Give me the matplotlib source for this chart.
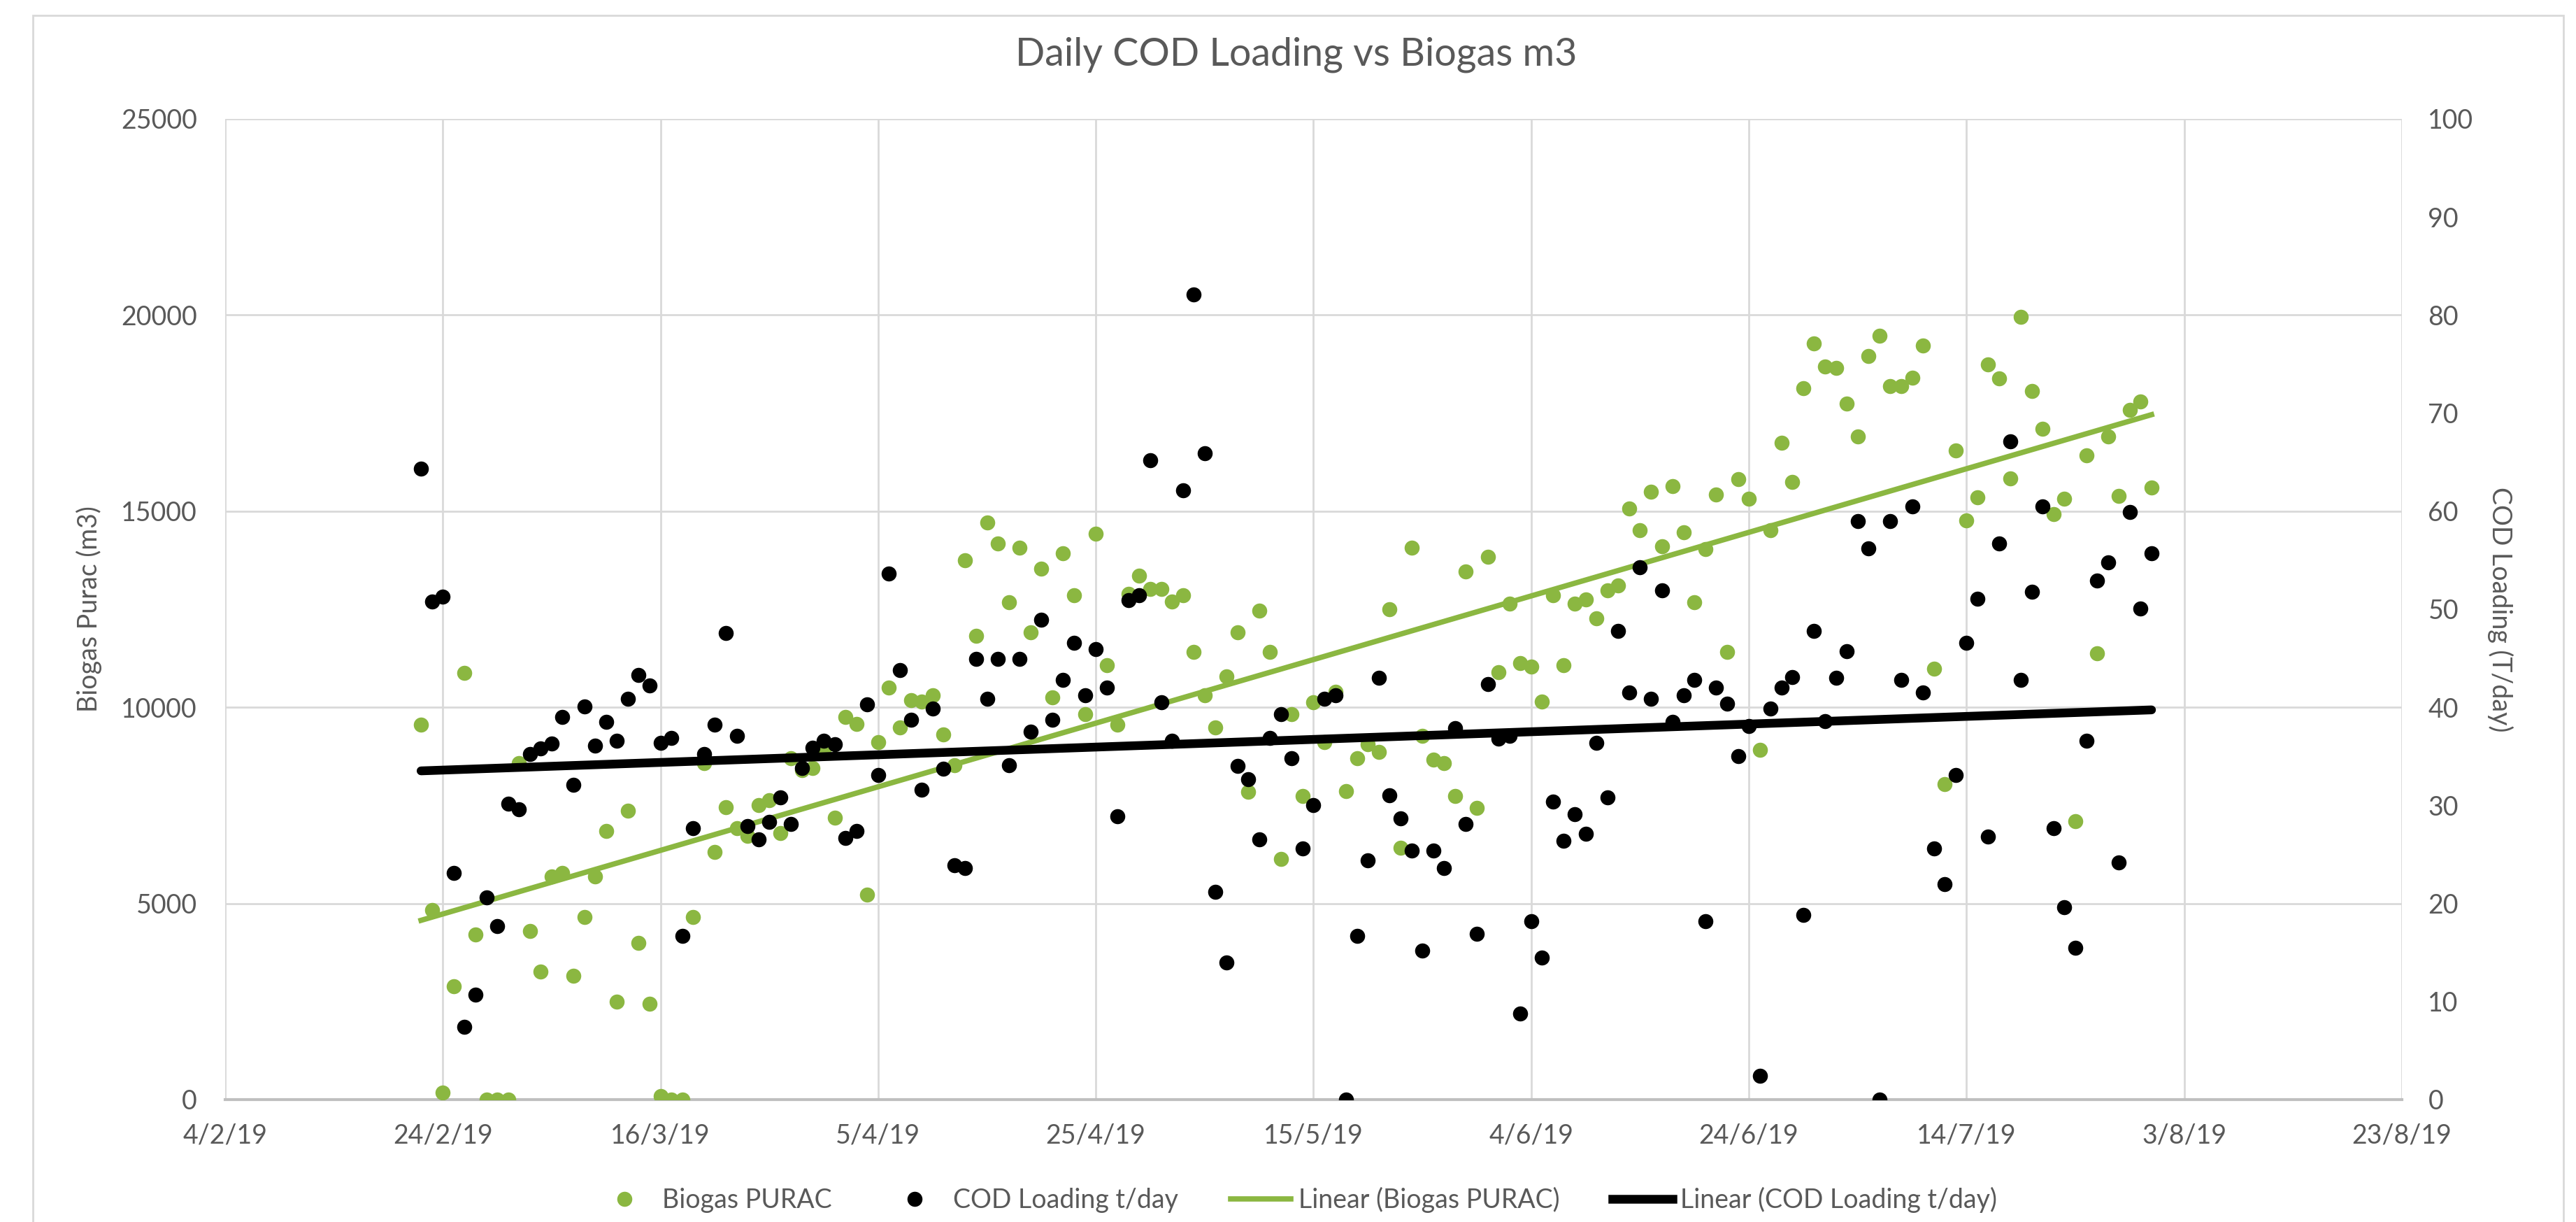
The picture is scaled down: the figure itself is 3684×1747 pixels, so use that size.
#!/usr/bin/env python

# Daily COD loading vs biogas, Excel style scatter with linear trends

import numpy as np
import pandas as pd
import matplotlib

matplotlib.use("Agg")
import matplotlib.pyplot as plt
import matplotlib.dates as mdates
from matplotlib.ticker import FuncFormatter, MultipleLocator
from matplotlib.patches import Rectangle
from matplotlib.lines import Line2D

plt.rcParams["font.family"] = ["Lato", "DejaVu Sans"]

# Daily readings, 22/2/19 to 31/7/19
days = pd.date_range("2019-02-22", "2019-07-31", freq="D")

biogas = [
    # Feb 22-28
    9550, 4830, 170, 2880, 10870, 4200, 0,
    # Mar
    0, 0, 8570, 4300, 3260, 5680, 5770, 3150, 4660, 5680,
    6840, 2500, 7360, 3990, 2440, 80, 0, 0, 4650, 8570,
    6310, 7460, 6920, 6720, 7510, 7630, 6800, 8700, 8400, 8450, 8860,
    # Apr
    7180, 9750, 9570, 5220, 9110, 10510, 9490, 10180, 10150, 10310,
    9310, 8530, 13740, 11830, 14710, 14180, 12670, 14070, 11910, 13540,
    10260, 13930, 12860, 9820, 14430, 11070, 9550, 12900, 13360, 13010,
    # May
    13010, 12700, 12860, 11410, 10310, 9490, 10790, 11910, 7840, 12470,
    11410, 6140, 9820, 7740, 10130, 9110, 10400, 7870, 8700, 9060,
    8860, 12500, 6420, 14070, 9270, 8660, 8580, 7740, 13470, 7430, 13830,
    # Jun
    10900, 12650, 11120, 11030, 10150, 12850, 11070, 12650, 12750, 12270,
    12980, 13110, 15070, 14510, 15500, 14110, 15630, 14460, 12670, 14030,
    15430, 11410, 15810, 15320, 8910, 14510, 16750, 15740, 18130, 19270,
    # Jul
    18690, 18660, 17740, 16900, 18960, 19470, 18180, 18180, 18400, 19220,
    10990, 8040, 16550, 14760, 15350, 18740, 18380, 15830, 19960, 18070,
    17100, 14920, 15320, 7100, 16420, 11380, 16910, 15380, 17590, 17800, 15610,
]

cod = [
    # Feb 22-28
    64.3, 50.8, 51.3, 23.1, 7.4, 10.7, 20.6,
    # Mar
    17.7, 30.2, 29.6, 35.2, 35.8, 36.3, 39.0, 32.1, 40.1, 36.1,
    38.5, 36.6, 40.9, 43.3, 42.2, 36.4, 36.9, 16.7, 27.7, 35.2,
    38.2, 47.6, 37.1, 27.9, 26.5, 28.3, 30.8, 28.1, 33.8, 35.9, 36.6,
    # Apr
    36.2, 26.7, 27.4, 40.3, 33.1, 53.6, 43.8, 38.7, 31.6, 39.9,
    33.7, 23.9, 23.6, 44.9, 40.9, 44.9, 34.1, 44.9, 37.5, 48.9,
    38.7, 42.8, 46.6, 41.2, 45.9, 42.0, 28.9, 50.9, 51.4, 65.2,
    # May
    40.5, 36.6, 62.1, 82.1, 65.9, 21.2, 14.0, 34.0, 32.7, 26.5,
    36.9, 39.3, 34.8, 25.6, 30.0, 40.9, 41.2, 0.0, 16.7, 24.4,
    43.0, 31.0, 28.7, 25.4, 15.2, 25.4, 23.6, 37.9, 28.1, 16.9, 42.4,
    # Jun
    36.8, 37.1, 8.8, 18.2, 14.5, 30.4, 26.4, 29.1, 27.1, 36.4,
    30.8, 47.8, 41.5, 54.3, 40.9, 51.9, 38.5, 41.2, 42.8, 18.2,
    42.0, 40.4, 35.0, 38.1, 2.4, 39.9, 42.0, 43.1, 18.8, 47.8,
    # Jul
    38.6, 43.0, 45.7, 59.0, 56.2, 0.0, 59.0, 42.8, 60.5, 41.5,
    25.6, 22.0, 33.1, 46.6, 51.1, 26.8, 56.7, 67.1, 42.8, 51.8,
    60.5, 27.7, 19.6, 15.5, 36.6, 52.9, 54.8, 24.2, 59.9, 50.1, 55.7,
]

x_ticks = pd.date_range("2019-02-04", "2019-08-23", freq="20D")

green = "#8BB741"
grey_text = "#595959"
grid_col = "#D9D9D9"
fs = 27

fig = plt.figure(figsize=(36.84, 17.47), dpi=100, facecolor="white")

# Chart area border
fig.add_artist(
    Rectangle(
        (0.0128, -0.01), 0.9823, 0.9974,
        transform=fig.transFigure, fill=False, edgecolor=grid_col, lw=2,
    )
)

ax = fig.add_axes([0.0874, 0.1002, 0.8450, 0.8025])
ax2 = ax.twinx()

# Biogas on left axis
ax.plot(days, biogas, "o", color=green, markersize=15.5, markeredgewidth=0, zorder=3)
xnum = mdates.date2num(days)
p_bio = np.polyfit(xnum, biogas, 1)
ends = xnum[[0, -1]]
ax.plot(mdates.num2date(ends), np.polyval(p_bio, ends), color=green, lw=5.5, zorder=4)

# COD on right axis
ax2.plot(days, cod, "o", color="black", markersize=15.5, markeredgewidth=0, zorder=3)
p_cod = np.polyfit(xnum, cod, 1)
ax2.plot(mdates.num2date(ends), np.polyval(p_cod, ends), color="black", lw=9,
         solid_capstyle="round", zorder=4)

ax.set_xlim(x_ticks[0], x_ticks[-1])
ax.set_xticks(x_ticks)
ax.xaxis.set_major_formatter(
    FuncFormatter(lambda v, pos: "%d/%d/%s" % (
        mdates.num2date(v).day, mdates.num2date(v).month, mdates.num2date(v).strftime("%y")))
)
ax.set_ylim(0, 25000)
ax.yaxis.set_major_locator(MultipleLocator(5000))
ax2.set_ylim(0, 100)
ax2.yaxis.set_major_locator(MultipleLocator(10))

ax.set_axisbelow(True)
ax.grid(True, which="major", color=grid_col, lw=2)
for s in ax.spines.values():
    s.set_visible(False)
for s in ax2.spines.values():
    s.set_visible(False)
ax.spines["bottom"].set_visible(True)
ax.spines["bottom"].set_color("#BFBFBF")
ax.spines["bottom"].set_linewidth(3)

ax.tick_params(axis="x", length=0, labelsize=fs, labelcolor=grey_text, pad=24)
ax.tick_params(axis="y", length=0, labelsize=fs, labelcolor=grey_text, pad=29)
ax2.tick_params(axis="y", length=0, labelsize=fs, labelcolor=grey_text, pad=27)

ax.set_ylabel("Biogas Purac (m3)", fontsize=fs, color=grey_text)
ax.yaxis.set_label_coords(-0.0565, 0.5)
ax2.set_ylabel("COD Loading (T/day)", fontsize=fs, color=grey_text,
               rotation=270, va="center")
ax2.yaxis.set_label_coords(1.0453, 0.5)

fig.text(0.5033, 0.955, "Daily COD Loading vs Biogas m3", ha="center", va="center",
         fontsize=40, color=grey_text)

handles = [
    Line2D([], [], ls="none", marker="o", color=green, markersize=15.5, markeredgewidth=0),
    Line2D([], [], ls="none", marker="o", color="black", markersize=15.5, markeredgewidth=0),
    Line2D([], [], color=green, lw=5.5),
    Line2D([], [], color="black", lw=9),
]
labels = ["Biogas PURAC", "COD Loading t/day", "Linear (Biogas PURAC)",
          "Linear (COD Loading t/day)"]
fig.legend(handles, labels, loc="center", bbox_to_anchor=(0.503, 0.018), ncol=4,
           frameon=False, fontsize=fs, handlelength=2.3, handletextpad=0.3,
           columnspacing=2.0, labelcolor=grey_text)

fig.savefig("out.png", dpi=100, facecolor="white")
